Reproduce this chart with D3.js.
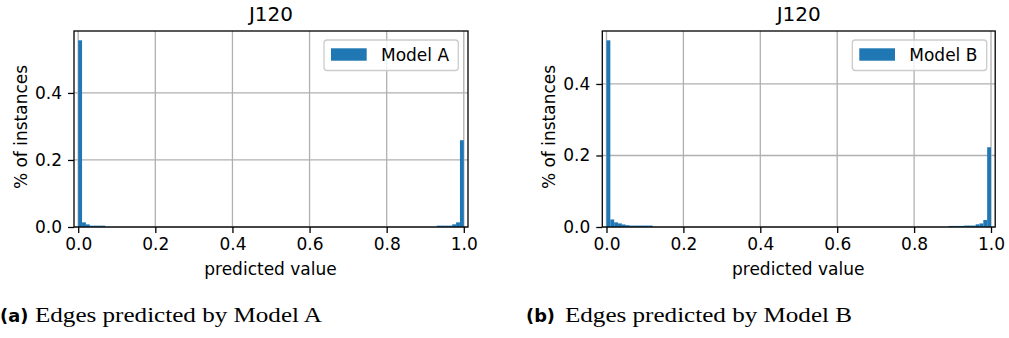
<!DOCTYPE html>
<html>
<head>
<meta charset="utf-8">
<script src="https://cdn.jsdelivr.net/npm/d3@7"></script>
<style>
  html, body { margin: 0; padding: 0; background: #fff; }
  svg { display: block; }
</style>
</head>
<body>
<svg id="chart" width="1009" height="338"></svg>
<script>
// ---- data ----
const binWidth = 0.01;
const xTicks = [0.0, 0.2, 0.4, 0.6, 0.8, 1.0];
const yTicks = [0.0, 0.2, 0.4];
const titles = ["J120", "J120"];
const seriesNames = ["Model A", "Model B"];
const captionLabels = ["(a)", "(b)"];
const captionTexts = ["Edges predicted by Model A", "Edges predicted by Model B"];

// Model A histogram: bin lower edges and fraction of instances
const binsA = [0.00, 0.01, 0.02, 0.03, 0.04, 0.05, 0.06,
               0.93, 0.94, 0.95, 0.96, 0.97, 0.98, 0.99];
const valuesA = [0.557, 0.0138, 0.0078, 0.004, 0.004, 0.004, 0.004,
                 0.004, 0.004, 0.004, 0.004, 0.008, 0.0138, 0.259];

// Model B histogram
const binsB = [0.00, 0.01, 0.02, 0.03, 0.04, 0.05, 0.06, 0.07, 0.08, 0.09, 0.10, 0.11,
               0.89, 0.90, 0.91, 0.92, 0.93, 0.94, 0.95, 0.96, 0.97, 0.98, 0.99];
const valuesB = [0.522, 0.021, 0.013, 0.010, 0.007, 0.005, 0.004, 0.004, 0.004, 0.004, 0.004, 0.004,
                 0.003, 0.003, 0.003, 0.003, 0.004, 0.004, 0.004, 0.0075, 0.010, 0.0196, 0.223];

const xLabel = "predicted value";
const yLabel = "% of instances";

// ---- layout ----
const svg = d3.select("#chart");
const BLUE = "#1f77b4";
const FONT = "DejaVu Sans, sans-serif";
const FS = 17;

const panels = [
  { left: 74, right: 468, top: 31, bottom: 227, bins: binsA, values: valuesA, i: 0,
    legend: { x0: 324, x1: 458.3 }, capX: 0, capTextX: 35 },
  { left: 602.3, right: 995.2, top: 31, bottom: 227, bins: binsB, values: valuesB, i: 1,
    legend: { x0: 852.3, x1: 986.7 }, capX: 526, capTextX: 565 }
];

panels.forEach(p => {
  const x = d3.scaleLinear().domain([-0.0109, 1.0109]).range([p.left, p.right]);
  const ymax = d3.max(p.values) * 1.05;
  const y = d3.scaleLinear().domain([0, ymax]).range([p.bottom, p.top]);
  const g = svg.append("g");

  // grid
  g.append("g").selectAll("line.vx").data(xTicks).join("line")
    .attr("x1", d => x(d)).attr("x2", d => x(d))
    .attr("y1", p.top).attr("y2", p.bottom)
    .attr("stroke", "#b0b0b0").attr("stroke-width", 1.3);
  g.append("g").selectAll("line.hy").data(yTicks).join("line")
    .attr("x1", p.left).attr("x2", p.right)
    .attr("y1", d => y(d)).attr("y2", d => y(d))
    .attr("stroke", "#b0b0b0").attr("stroke-width", 1.3);

  // bars
  g.append("g").selectAll("rect").data(p.bins.map((b, k) => ({ b, v: p.values[k] }))).join("rect")
    .attr("x", d => x(d.b))
    .attr("width", d => x(d.b + binWidth) - x(d.b))
    .attr("y", d => y(d.v))
    .attr("height", d => y(0) - y(d.v))
    .attr("fill", BLUE);

  // frame
  g.append("rect")
    .attr("x", p.left).attr("y", p.top)
    .attr("width", p.right - p.left).attr("height", p.bottom - p.top)
    .attr("fill", "none").attr("stroke", "#000").attr("stroke-width", 1.3);

  // x axis
  const xAxis = d3.axisBottom(x).tickValues(xTicks).tickFormat(d3.format(".1f"))
    .tickSize(6).tickPadding(5);
  const gx = g.append("g").attr("transform", `translate(0,${p.bottom})`).call(xAxis);
  gx.select(".domain").remove();
  gx.selectAll(".tick line").attr("stroke", "#000").attr("stroke-width", 1.3);
  gx.selectAll(".tick text").attr("font-family", FONT).attr("font-size", FS).attr("fill", "#000");

  // y axis
  const yAxis = d3.axisLeft(y).tickValues(yTicks).tickFormat(d3.format(".1f"))
    .tickSize(6).tickPadding(6);
  const gy = g.append("g").attr("transform", `translate(${p.left},0)`).call(yAxis);
  gy.select(".domain").remove();
  gy.selectAll(".tick line").attr("stroke", "#000").attr("stroke-width", 1.3);
  gy.selectAll(".tick text").attr("font-family", FONT).attr("font-size", FS).attr("fill", "#000");

  // labels
  g.append("text")
    .attr("x", (p.left + p.right) / 2 - 0.5).attr("y", 275)
    .attr("text-anchor", "middle").attr("font-family", FONT).attr("font-size", FS)
    .text(xLabel);
  g.append("text")
    .attr("transform", `translate(${p.left - 47.5},${127}) rotate(-90)`)
    .attr("text-anchor", "middle").attr("font-family", FONT).attr("font-size", FS)
    .text(yLabel);
  g.append("text")
    .attr("x", (p.left + p.right) / 2).attr("y", 21)
    .attr("text-anchor", "middle").attr("font-family", FONT).attr("font-size", 20)
    .text(titles[p.i]);

  // legend
  const L = p.legend;
  g.append("rect")
    .attr("x", L.x0).attr("y", 40).attr("width", L.x1 - L.x0).attr("height", 30.5)
    .attr("rx", 3).attr("fill", "#fff").attr("fill-opacity", 0.8)
    .attr("stroke", "#cccccc").attr("stroke-width", 1.3);
  g.append("rect")
    .attr("x", L.x0 + 7).attr("y", 48.3).attr("width", 35.7).attr("height", 12.4)
    .attr("fill", BLUE);
  g.append("text")
    .attr("x", L.x0 + 57).attr("y", 61)
    .attr("font-family", FONT).attr("font-size", FS)
    .text(seriesNames[p.i]);

  // caption
  svg.append("text")
    .attr("x", p.capX).attr("y", 321.7)
    .attr("font-family", "DejaVu Sans, sans-serif").attr("font-weight", "bold").attr("font-size", 17.8)
    .text(captionLabels[p.i]);
  svg.append("text")
    .attr("x", p.capTextX).attr("y", 321.7)
    .attr("font-family", "Liberation Serif, serif").attr("font-size", 21.5)
    .attr("textLength", 287).attr("lengthAdjust", "spacingAndGlyphs")
    .text(captionTexts[p.i]);
});
</script>
</body>
</html>
